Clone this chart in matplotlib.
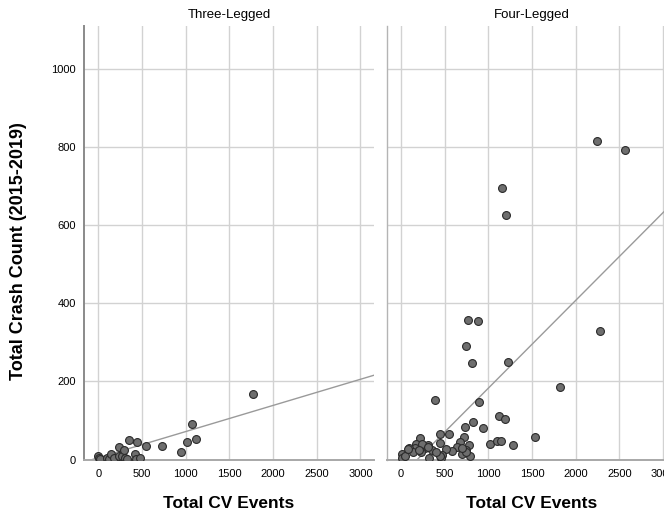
import numpy as np
import matplotlib
matplotlib.use("Agg")
import matplotlib.pyplot as plt

plt.rcParams["font.family"] = ["Liberation Sans", "DejaVu Sans"]

# Three-legged intersections: total CV events vs. total crash count
three_cv = [0, 10, 20, 96, 125, 145, 180, 233, 240, 267, 294, 302, 325, 351,
            420, 430, 446, 481, 549, 732, 950, 1018, 1068, 1118, 1766]
three_crash = [9, 3, 1, 5, 2, 14, 4, 10, 31, 9, 24, 3, 2, 50,
               15, 2, 44, 5, 35, 34, 18, 45, 92, 52, 168]

# Four-legged intersections
four_cv = [1156, 1205, 2243, 2559, 770, 885, 2273, 747, 809, 1228, 1823, 389,
           890, 1121, 1193, 827, 736, 936, 448, 551, 1537, 715, 221, 1017,
           1098, 1147, 1281, 675, 780, 740, 636, 580, 446, 511, 473, 458, 695,
           789, 744, 358, 312, 275, 320, 168, 160, 244, 92, 141, 225, 15, 15,
           46, 446, 397, 702, 305, 84, 210]
four_crash = [696, 627, 816, 792, 357, 354, 330, 291, 248, 251, 185, 153,
              147, 111, 105, 96, 83, 80, 66, 65, 58, 57, 54, 40,
              47, 47, 37, 46, 36, 24, 31, 22, 42, 28, 12, 5, 13,
              8, 20, 24, 37, 29, 4, 41, 29, 39, 29, 18, 20, 13, 5,
              9, 9, 20, 29, 33, 26, 24]

# Linear fit lines (intercept, slope) per panel
three_fit = (4.6, 0.067)
four_fit = (-42.0, 0.225)

panel_titles = ["Three-Legged", "Four-Legged"]
x_ticks = [0, 500, 1000, 1500, 2000, 2500, 3000]
y_ticks = [0, 200, 400, 600, 800, 1000]

W, H = 664, 514
fig = plt.figure(figsize=(W / 100, H / 100), dpi=100)

ax_left_px = [84, 386.7]
ax_w_px = 290
ax_top_px, ax_bot_px = 26, 459.5

xlim = (-164, 3155)
ylim = (0, 1111)

panels = [(three_cv, three_crash, three_fit), (four_cv, four_crash, four_fit)]
for i, (xs, ys, fit) in enumerate(panels):
    ax = fig.add_axes([ax_left_px[i] / W, 1 - ax_bot_px / H,
                       ax_w_px / W, (ax_bot_px - ax_top_px) / H])
    ax.set_xlim(*xlim)
    ax.set_ylim(*ylim)
    ax.set_xticks(x_ticks)
    ax.set_yticks(y_ticks)
    ax.grid(True, color="#d2d2d2", linewidth=1.0, zorder=0)
    ax.set_axisbelow(True)
    for s in ["top", "right"]:
        ax.spines[s].set_visible(False)
    ax.spines["bottom"].set_color("#a8a8a8")
    ax.spines["bottom"].set_linewidth(1.4)
    ax.spines["left"].set_color("#8a8a8a" if i == 0 else "#b4b4b4")
    ax.spines["left"].set_linewidth(1.4 if i == 0 else 1.0)
    ax.tick_params(length=0, labelsize=8, colors="#000000")
    ax.tick_params(axis="x", pad=7)
    ax.tick_params(axis="y", pad=6)
    if i == 1:
        ax.tick_params(axis="y", labelleft=False)

    b0, b1 = fit
    fx = np.array(xlim)
    ax.plot(fx, b0 + b1 * fx, color="#9a9a9a", linewidth=1.0, zorder=2)
    ax.scatter(xs, ys, s=32, facecolor="#6e6e6e", edgecolor="#2a2a2a",
               linewidth=0.8, zorder=3)

    cx = (ax_left_px[i] + ax_w_px / 2) / W
    fig.text(cx, 1 - 15 / H, panel_titles[i], ha="center", va="center",
             fontsize=9.5)
    fig.text(cx, 1 - 508 / H, "Total CV Events", ha="center", va="baseline",
             fontsize=12.5, fontweight="bold")

fig.text(19 / W, 1 - 251 / H, "Total Crash Count (2015-2019)", rotation=90,
         ha="center", va="center", fontsize=13, fontweight="bold")

fig.savefig("out.png", dpi=100, facecolor="white")
